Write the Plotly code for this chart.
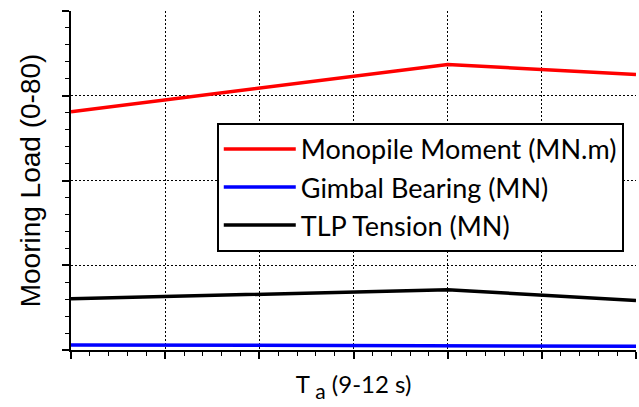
import plotly.graph_objects as go

periods = [9, 10, 11, 12]
monopile_moment = [56.2, 61.7, 67.4, 65.0]
gimbal_bearing = [1.2, 1.1, 1.0, 0.9]
tlp_tension = [12.1, 13.1, 14.2, 11.7]

names = ["Monopile Moment (MN.m)", "Gimbal Bearing (MN)", "TLP Tension (MN)"]
colors = ["#ff0000", "#0000ff", "#000000"]

fig = go.Figure()
for y, n, c in zip([monopile_moment, gimbal_bearing, tlp_tension], names, colors):
    fig.add_trace(go.Scatter(x=periods, y=y, mode="lines", name=n,
                             line=dict(color=c, width=3.5)))

axis_common = dict(
    showline=True, linecolor="black", linewidth=2,
    showgrid=True, gridcolor="black", gridwidth=1, griddash="2px,2px",
    zeroline=False, showticklabels=False,
    ticks="outside", ticklen=7, tickwidth=1.5, tickcolor="black",
)

fig.update_xaxes(range=[9, 12], dtick=0.5, tick0=9,
                 minor=dict(dtick=0.1, ticks="outside", ticklen=4, tickwidth=1, tickcolor="black", showgrid=False),
                 title=dict(text="<span style='font-size:24px'>T </span><sub>a</sub><span style='font-size:24px'> (9-12 s)</span>",
                            font=dict(family="Lato", size=30, color="black"), standoff=14),
                 **axis_common)
fig.update_yaxes(range=[0, 80], dtick=20, tick0=0,
                 minor=dict(dtick=4, ticks="outside", ticklen=4, tickwidth=1, tickcolor="black", showgrid=False),
                 title=dict(text="Mooring Load (0-80)", font=dict(family="Liberation Sans", size=28, color="black"), standoff=13),
                 **axis_common)

fig.update_layout(
    width=639, height=407,
    margin=dict(l=71, r=3, t=11, b=57),
    plot_bgcolor="white", paper_bgcolor="white",
    legend=dict(x=0.258, y=0.67, xanchor="left", yanchor="top",
                bordercolor="black", borderwidth=2, bgcolor="white",
                font=dict(family="Lato", size=27, color="black"),
                itemwidth=72),
)

fig.write_html("out.html")
